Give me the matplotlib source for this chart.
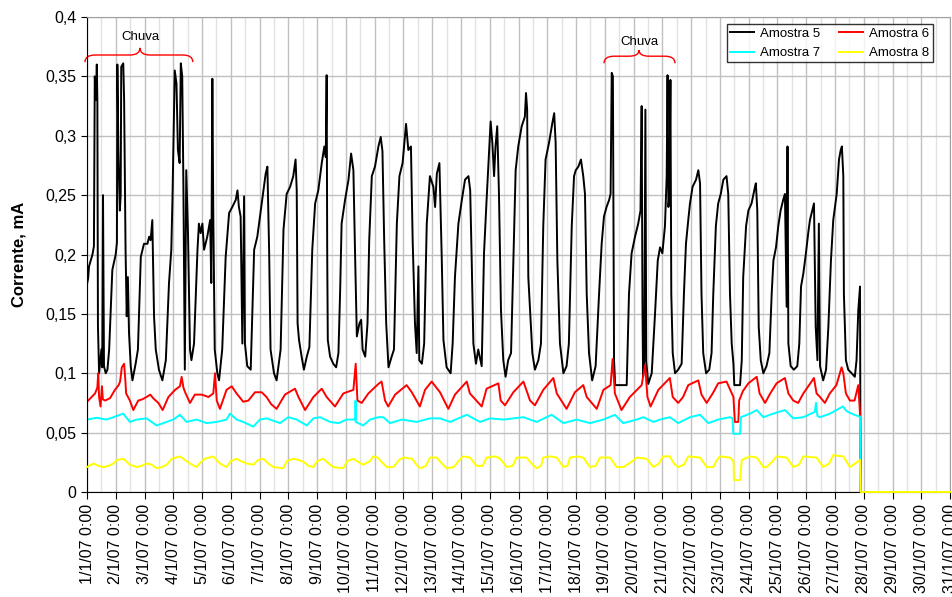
import matplotlib
matplotlib.use("Agg")
import matplotlib.pyplot as plt
from matplotlib.path import Path
from matplotlib.patches import PathPatch
from matplotlib.ticker import FuncFormatter, MultipleLocator

plt.rcParams["font.family"] = ["Liberation Sans", "DejaVu Sans"]

# ── data: time in days since 1/1/07 0:00, current in mA ─────────────
day_labels = [f"{d}/1/07 0:00" for d in range(1, 32)]
series_names = ["Amostra 5", "Amostra 6", "Amostra 7", "Amostra 8"]

t5 = [0.00, 0.04, 0.07, 0.19, 0.24, 0.27, 0.31, 0.34, 0.36, 0.38, 0.42, 0.50, 0.53, 0.556, 0.59,
      0.65, 0.71, 0.77, 0.88, 0.997, 1.04, 1.055, 1.09, 1.14, 1.17, 1.19, 1.26, 1.29, 1.34, 1.38,
      1.42, 1.46, 1.52, 1.58, 1.69, 1.77, 1.87, 1.98, 2.10, 2.16, 2.21, 2.27, 2.33, 2.39, 2.50,
      2.62, 2.74, 2.85, 2.93, 2.97, 3.05, 3.11, 3.16, 3.22, 3.26, 3.31, 3.35, 3.40, 3.45, 3.51,
      3.58, 3.63, 3.72, 3.84, 3.89, 3.95, 4.01, 4.07, 4.18, 4.28, 4.32, 4.357, 4.39, 4.44, 4.53,
      4.59, 4.70, 4.82, 4.94, 5.05, 5.17, 5.23, 5.28, 5.34, 5.40, 5.46, 5.49, 5.57, 5.69, 5.81,
      5.92, 6.04, 6.21, 6.27, 6.33, 6.38, 6.50, 6.59, 6.73, 6.83, 6.94, 7.06, 7.17, 7.25, 7.29,
      7.32, 7.37, 7.46, 7.54, 7.64, 7.73, 7.79, 7.83, 7.93, 8.04, 8.16, 8.25, 8.30, 8.33, 8.35,
      8.37, 8.45, 8.56, 8.66, 8.74, 8.80, 8.85, 8.97, 9.09, 9.18, 9.26, 9.32, 9.38, 9.47, 9.53,
      9.58, 9.67, 9.75, 9.81, 9.90, 10.01, 10.13, 10.21, 10.27, 10.33, 10.40, 10.48, 10.59, 10.67,
      10.77, 10.86, 10.97, 11.09, 11.17, 11.26, 11.32, 11.40, 11.46, 11.52, 11.55, 11.64, 11.72,
      11.81, 11.92, 12.04, 12.10, 12.16, 12.25, 12.33, 12.39, 12.50, 12.64, 12.71, 12.79, 12.91,
      13.03, 13.14, 13.26, 13.32, 13.37, 13.43, 13.52, 13.60, 13.72, 13.80, 13.89, 13.95, 14.03,
      14.09, 14.15, 14.20, 14.26, 14.32, 14.39, 14.47, 14.55, 14.64, 14.74, 14.82, 14.90, 14.99,
      15.11, 15.22, 15.26, 15.30, 15.34, 15.40, 15.48, 15.57, 15.69, 15.78, 15.86, 15.94, 16.06,
      16.17, 16.24, 16.29, 16.35, 16.44, 16.56, 16.67, 16.75, 16.85, 16.93, 16.99, 17.08, 17.17,
      17.25, 17.31, 17.37, 17.45, 17.56, 17.68, 17.80, 17.89, 17.97, 18.06, 18.15, 18.20, 18.24,
      18.28, 18.32, 18.36, 18.76, 18.84, 18.93, 19.05, 19.16, 19.24, 19.28, 19.31, 19.33, 19.37,
      19.41, 19.44, 19.51, 19.63, 19.74, 19.84, 19.92, 20.00, 20.09, 20.15, 20.18, 20.21, 20.245,
      20.28, 20.31, 20.36, 20.44, 20.55, 20.67, 20.75, 20.82, 20.90, 20.96, 21.05, 21.17, 21.25,
      21.31, 21.36, 21.42, 21.52, 21.63, 21.71, 21.77, 21.86, 21.94, 22.03, 22.12, 22.23, 22.29,
      22.35, 22.41, 22.47, 22.50, 22.70, 22.76, 22.81, 22.91, 22.99, 23.10, 23.22, 23.25, 23.30,
      23.35, 23.42, 23.51, 23.62, 23.72, 23.80, 23.86, 23.95, 24.03, 24.11, 24.20, 24.26, 24.32,
      24.35, 24.38, 24.46, 24.57, 24.69, 24.76, 24.82, 24.90, 24.99, 25.07, 25.13, 25.19, 25.27,
      25.33, 25.39, 25.44, 25.48, 25.59, 25.69, 25.77, 25.86, 25.94, 26.06, 26.14, 26.20, 26.24,
      26.29, 26.31, 26.38, 26.46, 26.58, 26.69, 26.75, 26.81, 26.87, 26.89, 30.0]
a5 = [0.175, 0.180, 0.190, 0.200, 0.207, 0.350, 0.330, 0.360, 0.330, 0.140, 0.100, 0.120, 0.105, 0.250, 0.106,
      0.100, 0.103, 0.120, 0.187, 0.200, 0.210, 0.360, 0.288, 0.237, 0.250, 0.358, 0.361, 0.330, 0.204, 0.148,
      0.181, 0.134, 0.106, 0.094, 0.108, 0.120, 0.198, 0.209, 0.209, 0.215, 0.212, 0.229, 0.148, 0.120, 0.103,
      0.094, 0.111, 0.176, 0.204, 0.246, 0.355, 0.344, 0.288, 0.277, 0.361, 0.350, 0.260, 0.103, 0.271, 0.218,
      0.120, 0.111, 0.125, 0.204, 0.226, 0.218, 0.226, 0.204, 0.215, 0.229, 0.176, 0.348, 0.232, 0.120, 0.100,
      0.094, 0.120, 0.198, 0.235, 0.240, 0.246, 0.254, 0.240, 0.232, 0.125, 0.249, 0.125, 0.106, 0.103, 0.204,
      0.215, 0.237, 0.268, 0.274, 0.204, 0.120, 0.100, 0.094, 0.120, 0.221, 0.251, 0.257, 0.266, 0.280, 0.254,
      0.142, 0.128, 0.114, 0.103, 0.114, 0.122, 0.170, 0.204, 0.243, 0.254, 0.277, 0.291, 0.282, 0.351, 0.200,
      0.128, 0.114, 0.108, 0.105, 0.117, 0.170, 0.226, 0.246, 0.263, 0.285, 0.271, 0.198, 0.131, 0.142, 0.145,
      0.120, 0.114, 0.142, 0.212, 0.266, 0.274, 0.291, 0.299, 0.287, 0.212, 0.142, 0.105, 0.114, 0.120,
      0.226, 0.266, 0.277, 0.310, 0.288, 0.291, 0.212, 0.142, 0.117, 0.190, 0.111, 0.108, 0.125,
      0.226, 0.266, 0.257, 0.240, 0.268, 0.277, 0.198, 0.128, 0.105, 0.100, 0.125, 0.181, 0.226,
      0.246, 0.263, 0.266, 0.254, 0.198, 0.125, 0.108, 0.120, 0.106, 0.201, 0.246, 0.274, 0.312,
      0.294, 0.266, 0.291, 0.308, 0.251, 0.153, 0.111, 0.097, 0.111, 0.117, 0.195, 0.271, 0.291,
      0.308, 0.316, 0.336, 0.322, 0.181, 0.153, 0.117, 0.103, 0.111, 0.125, 0.224, 0.280, 0.294,
      0.310, 0.319, 0.294, 0.195, 0.125, 0.100, 0.106, 0.125, 0.224, 0.266, 0.271, 0.274, 0.280,
      0.266, 0.251, 0.167, 0.117, 0.094, 0.106, 0.167, 0.209, 0.232, 0.240, 0.246, 0.251, 0.353,
      0.350, 0.111, 0.090, 0.090, 0.167, 0.201, 0.215, 0.226, 0.237, 0.325, 0.150, 0.097, 0.110,
      0.322, 0.110, 0.091, 0.100, 0.148, 0.195, 0.206, 0.201, 0.224, 0.266, 0.351, 0.240, 0.250,
      0.347, 0.167, 0.117, 0.100, 0.103, 0.108, 0.167, 0.209, 0.229, 0.243, 0.257, 0.263, 0.271,
      0.260, 0.167, 0.117, 0.100, 0.103, 0.117, 0.167, 0.224, 0.243, 0.251, 0.263, 0.266, 0.251,
      0.167, 0.125, 0.108, 0.090, 0.090, 0.111, 0.181, 0.224, 0.237, 0.243, 0.257, 0.260, 0.237,
      0.139, 0.111, 0.100, 0.106, 0.117, 0.167, 0.195, 0.206, 0.224, 0.237, 0.246, 0.251, 0.156,
      0.291, 0.125, 0.106, 0.103, 0.106, 0.125, 0.173, 0.184, 0.201, 0.218, 0.229, 0.235, 0.243,
      0.139, 0.111, 0.226, 0.106, 0.094, 0.103, 0.139, 0.195, 0.229, 0.251, 0.280, 0.288, 0.291,
      0.266, 0.167, 0.111, 0.103, 0.100, 0.097, 0.111, 0.153, 0.173, 0.0, 0.0]

t6 = [0.00, 0.12, 0.28, 0.36, 0.39, 0.42, 0.47, 0.52, 0.55, 0.63, 0.80, 0.97, 1.10, 1.15, 1.21,
      1.29, 1.33, 1.36, 1.49, 1.61, 1.78, 1.92, 2.07, 2.20, 2.30, 2.48, 2.63, 2.83, 3.06, 3.23,
      3.29, 3.35, 3.41, 3.58, 3.75, 3.99, 4.22, 4.39, 4.45, 4.51, 4.62, 4.85, 5.03, 5.20, 5.43,
      5.61, 5.84, 6.07, 6.24, 6.40, 6.59, 6.88, 7.23, 7.35, 7.58, 7.87, 8.16, 8.33, 8.62, 8.91,
      9.26, 9.34, 9.40, 9.55, 9.78, 10.13, 10.24, 10.36, 10.47, 10.71, 11.11, 11.29, 11.57, 11.75,
      11.98, 12.27, 12.56, 12.79, 13.20, 13.31, 13.72, 13.89, 14.30, 14.38, 14.53, 14.82, 15.17,
      15.40, 15.57, 15.86, 16.21, 16.33, 16.67, 16.96, 17.25, 17.37, 17.72, 17.95, 18.20, 18.27,
      18.35, 18.58, 18.87, 19.28, 19.40, 19.48, 19.59, 19.86, 20.26, 20.36, 20.55, 20.72, 20.90,
      21.25, 21.36, 21.54, 21.75, 21.94, 22.23, 22.47, 22.52, 22.64, 22.67, 22.80, 22.99, 23.28,
      23.38, 23.57, 23.75, 23.97, 24.26, 24.38, 24.55, 24.72, 24.90, 25.10, 25.27, 25.36, 25.48,
      25.65, 25.82, 26.05, 26.23, 26.29, 26.38, 26.52, 26.68, 26.81, 26.87, 26.89, 30.0]
a6 = [0.076, 0.079, 0.083, 0.088, 0.100, 0.080, 0.072, 0.089, 0.078, 0.077, 0.079, 0.086, 0.090, 0.093, 0.105,
      0.108, 0.095, 0.083, 0.077, 0.069, 0.077, 0.078, 0.080, 0.082, 0.079, 0.075, 0.069, 0.080, 0.086, 0.089,
      0.097, 0.088, 0.084, 0.075, 0.082, 0.082, 0.080, 0.083, 0.100, 0.077, 0.070, 0.086, 0.089, 0.083, 0.076,
      0.077, 0.084, 0.084, 0.080, 0.074, 0.070, 0.082, 0.087, 0.080, 0.069, 0.080, 0.087, 0.080, 0.072, 0.083,
      0.086, 0.108, 0.077, 0.075, 0.083, 0.091, 0.093, 0.077, 0.072, 0.082, 0.090, 0.084, 0.072, 0.086,
      0.093, 0.084, 0.070, 0.082, 0.093, 0.083, 0.072, 0.087, 0.0915, 0.077, 0.073, 0.084, 0.093,
      0.077, 0.073, 0.086, 0.096, 0.083, 0.070, 0.084, 0.090, 0.080, 0.070, 0.086, 0.090, 0.112,
      0.083, 0.069, 0.080, 0.090, 0.107, 0.080, 0.072, 0.086, 0.096, 0.080, 0.075, 0.080, 0.090,
      0.094, 0.082, 0.075, 0.083, 0.0915, 0.093, 0.080, 0.059, 0.059, 0.077, 0.085, 0.0915, 0.097,
      0.083, 0.075, 0.083, 0.0915, 0.096, 0.083, 0.077, 0.075, 0.083, 0.090, 0.096, 0.083, 0.080,
      0.075, 0.083, 0.090, 0.105, 0.100, 0.083, 0.077, 0.077, 0.090, 0.066, 0.0, 0.0]

t7 = [0.00, 0.34, 0.68, 0.92, 1.26, 1.49, 1.73, 2.07, 2.42, 2.65, 3.00, 3.23, 3.46, 3.81, 4.16,
      4.51, 4.85, 4.97, 5.20, 5.43, 5.78, 6.01, 6.25, 6.71, 7.00, 7.29, 7.64, 7.87, 8.10, 8.45,
      8.74, 9.03, 9.33, 9.335, 9.34, 9.43, 9.60, 9.84, 10.13, 10.30, 10.53, 10.95, 11.46, 11.92,
      12.27, 12.62, 13.20, 13.66, 14.01, 14.47, 15.17, 15.63, 16.15, 16.56, 17.02, 17.48, 17.95,
      18.35, 18.64, 19.11, 19.34, 19.69, 19.92, 20.26, 20.55, 20.96, 21.31, 21.60, 21.94, 22.35,
      22.44, 22.466, 22.70, 22.73, 23.05, 23.28, 23.51, 23.86, 24.26, 24.55, 24.90, 25.30, 25.34,
      25.39, 25.48, 25.83, 26.27, 26.41, 26.69, 26.87, 26.89, 30.0]
a7 = [0.061, 0.0625, 0.061, 0.063, 0.066, 0.059, 0.061, 0.062, 0.056, 0.058, 0.061, 0.065, 0.059, 0.061, 0.058,
      0.059, 0.061, 0.066, 0.061, 0.059, 0.055, 0.061, 0.062, 0.058, 0.063, 0.061, 0.056, 0.062, 0.063, 0.059,
      0.058, 0.061, 0.061, 0.077, 0.059, 0.058, 0.056, 0.061, 0.063, 0.063, 0.058, 0.061, 0.059, 0.062,
      0.062, 0.059, 0.065, 0.059, 0.062, 0.061, 0.063, 0.059, 0.065, 0.058, 0.061, 0.058, 0.061,
      0.065, 0.058, 0.061, 0.063, 0.059, 0.061, 0.063, 0.058, 0.063, 0.065, 0.058, 0.061, 0.063,
      0.062, 0.049, 0.049, 0.063, 0.066, 0.069, 0.063, 0.066, 0.069, 0.062, 0.063, 0.0675, 0.075,
      0.064, 0.063, 0.066, 0.072, 0.068, 0.0648, 0.0635, 0.0, 0.0]

t8 = [0.00, 0.22, 0.40, 0.57, 0.75, 0.92, 1.05, 1.26, 1.40, 1.49, 1.73, 1.90, 2.07, 2.25, 2.42,
      2.60, 2.77, 2.95, 3.23, 3.40, 3.58, 3.81, 3.95, 4.10, 4.39, 4.50, 4.62, 4.85, 5.00, 5.20,
      5.35, 5.55, 5.78, 5.95, 6.13, 6.30, 6.48, 6.82, 6.95, 7.17, 7.35, 7.52, 7.70, 7.87, 8.00,
      8.21, 8.40, 8.56, 8.91, 9.05, 9.26, 9.45, 9.60, 9.84, 9.95, 10.10, 10.25, 10.42, 10.65,
      10.85, 11.00, 11.30, 11.45, 11.58, 11.78, 11.92, 12.15, 12.30, 12.50, 12.75, 12.95, 13.08,
      13.31, 13.54, 13.75, 13.89, 14.20, 14.36, 14.59, 14.80, 14.93, 15.28, 15.45, 15.63, 15.78,
      15.86, 16.10, 16.33, 16.56, 16.70, 16.79, 17.05, 17.25, 17.48, 17.68, 17.83, 18.18, 18.41,
      18.65, 18.90, 19.11, 19.45, 19.69, 19.88, 20.03, 20.26, 20.40, 20.55, 20.75, 20.90, 21.31,
      21.54, 21.77, 21.90, 22.00, 22.35, 22.47, 22.49, 22.70, 22.76, 23.05, 23.28, 23.51, 23.62,
      23.80, 23.97, 24.32, 24.55, 24.75, 24.90, 25.36, 25.59, 25.80, 25.94, 26.29, 26.52, 26.70,
      26.87, 26.89, 30.0]
a8 = [0.021, 0.024, 0.022, 0.021, 0.022, 0.024, 0.027, 0.028, 0.025, 0.023, 0.021, 0.022, 0.024, 0.023, 0.020,
      0.021, 0.023, 0.028, 0.030, 0.027, 0.024, 0.021, 0.025, 0.028, 0.030, 0.027, 0.024, 0.021, 0.026, 0.028,
      0.026, 0.024, 0.023, 0.027, 0.028, 0.024, 0.021, 0.020, 0.026, 0.028, 0.027, 0.0255, 0.022, 0.021, 0.026,
      0.028, 0.024, 0.021, 0.020, 0.026, 0.028, 0.025, 0.023, 0.026, 0.030, 0.029, 0.025, 0.021, 0.021,
      0.027, 0.029, 0.028, 0.023, 0.020, 0.022, 0.029, 0.029, 0.025, 0.020, 0.021, 0.027, 0.030,
      0.029, 0.022, 0.022, 0.029, 0.030, 0.028, 0.021, 0.022, 0.029, 0.029, 0.024, 0.020, 0.022,
      0.029, 0.030, 0.029, 0.021, 0.022, 0.029, 0.030, 0.029, 0.021, 0.022, 0.029, 0.029, 0.021,
      0.021, 0.025, 0.029, 0.028, 0.021, 0.024, 0.030, 0.030, 0.024, 0.021, 0.023, 0.030, 0.029,
      0.021, 0.021, 0.027, 0.030, 0.029, 0.026, 0.010, 0.010, 0.027, 0.030, 0.029, 0.021, 0.021,
      0.025, 0.030, 0.029, 0.021, 0.023, 0.030, 0.029, 0.021, 0.024, 0.031, 0.030, 0.021, 0.024,
      0.027, 0.0, 0.0]


def draw_brace(ax, x0, x1, xm, y_bot, y_mid, y_top, r):
    """Curly brace (opening downwards) in data coordinates."""
    verts = [(x0, y_bot), (x0, y_mid), (x0 + r, y_mid),
             (xm - r, y_mid), (xm, y_mid), (xm, y_top),
             (xm, y_mid), (xm + r, y_mid),
             (x1 - r, y_mid), (x1, y_mid), (x1, y_bot)]
    codes = [Path.MOVETO, Path.CURVE3, Path.CURVE3,
             Path.LINETO, Path.CURVE3, Path.CURVE3,
             Path.CURVE3, Path.CURVE3,
             Path.LINETO, Path.CURVE3, Path.CURVE3]
    ax.add_patch(PathPatch(Path(verts, codes), fill=False, edgecolor="red",
                           linewidth=1.0, clip_on=False))


fig = plt.figure(figsize=(9.53, 5.97), dpi=100)
ax = fig.add_axes([0.0913, 0.1759, 0.9056, 0.7956])

colors = ["black", "#ff0000", "#00ffff", "#ffff00"]
for (tt, vv), name, c in zip([(t5, a5), (t6, a6), (t7, a7), (t8, a8)], series_names, colors):
    ln, = ax.plot(tt, vv, color=c, linewidth=1.4, label=name)
    if name == "Amostra 8":
        # the zero stretch at the end lies over the x axis line
        ln.set_clip_on(False)
        ln.set_zorder(3)

ax.set_xlim(0, 30)
ax.set_ylim(0, 0.4)
ax.set_xticks(range(31))
ax.set_xticklabels(day_labels, rotation=90, fontsize=11.5)
ax.xaxis.set_minor_locator(MultipleLocator(0.5))
ax.yaxis.set_major_locator(MultipleLocator(0.05))
ax.yaxis.set_major_formatter(FuncFormatter(lambda v, p: ("%g" % round(v, 3)).replace(".", ",")))
ax.tick_params(axis="y", labelsize=11.5, length=4, direction="out")
ax.tick_params(axis="x", which="major", length=5, direction="out")
ax.tick_params(axis="x", which="minor", length=0)

ax.grid(True, which="major", color="#c0c0c0", linewidth=1.0)
ax.grid(True, which="minor", axis="x", color="#e2e2e2", linewidth=1.0)
ax.set_axisbelow(True)
for s in ["top", "right"]:
    ax.spines[s].set_color("#a0a0a0")
for s in ["left", "bottom"]:
    ax.spines[s].set_color("black")

ax.set_ylabel("Corrente, mA", fontsize=12, fontweight="bold", labelpad=14)

h, l = ax.get_legend_handles_labels()
order = [0, 2, 1, 3]
leg = ax.legend([h[i] for i in order], [l[i] for i in order], ncol=2, loc="upper right",
                bbox_to_anchor=(0.980, 0.985), borderaxespad=0, fontsize=9.5, frameon=True,
                fancybox=False, edgecolor="black", handlelength=1.8, handletextpad=0.5,
                columnspacing=1.4, borderpad=0.25, labelspacing=0.55)
leg.get_frame().set_linewidth(1.0)

draw_brace(ax, -0.07, 3.68, 1.84, 0.362, 0.368, 0.374, 0.35)
ax.text(1.84, 0.383, "Chuva", ha="center", va="center", fontsize=9.5)
draw_brace(ax, 17.97, 20.44, 19.19, 0.361, 0.367, 0.372, 0.35)
ax.text(19.19, 0.379, "Chuva", ha="center", va="center", fontsize=9.5)

fig.savefig("out.png", dpi=100)
